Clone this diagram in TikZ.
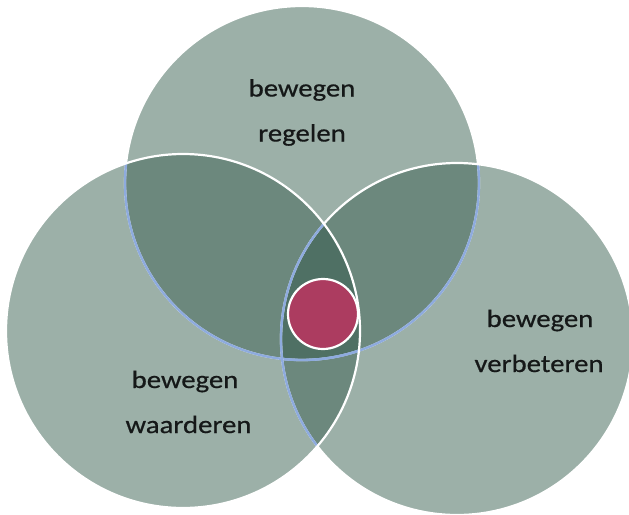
\documentclass[tikz,border=0pt]{standalone}
\usepackage{fontspec}
\setmainfont{Carlito}[FakeStretch=1.15,FakeBold=0.6]
\definecolor{vbase}{HTML}{9CB0A8}
\definecolor{vpair}{HTML}{6C887D}
\definecolor{vtriple}{HTML}{4F7064}
\definecolor{vcore}{HTML}{AC3C60}
\definecolor{vrim}{HTML}{8EABDE}
\definecolor{vtext}{HTML}{151818}
\begin{document}
\begin{tikzpicture}[x=1pt,y=-1pt,
  rim/.style={draw=white,line width=2.2pt},
  bluerim/.style={draw=vrim,line width=2.4pt},
  lbl/.style={anchor=base,inner sep=0pt,text=vtext,font=\fontsize{25}{30}\selectfont}]
\useasboundingbox (0,0) rectangle (629,514);
% the three sets
\def\topset{(302,183) circle[radius=177pt]}
\def\leftset{(183,331) circle[radius=177pt]}
\def\rightset{(457,339) circle[radius=176pt]}
% plain areas
\fill[vbase] \topset;
\fill[vbase] \leftset;
\fill[vbase] \rightset;
% pairwise overlaps
\begin{scope}
  \clip \topset;
  \fill[vpair] \leftset;
  \fill[vpair] \rightset;
\end{scope}
\begin{scope}
  \clip \leftset;
  \fill[vpair] \rightset;
\end{scope}
% common area of all three
\begin{scope}
  \clip \topset;
  \clip \leftset;
  \fill[vtriple] \rightset;
\end{scope}
% outlines, lower sets show blue where covered
\draw[rim] \topset;
\begin{scope}
  \clip \leftset;
  \draw[bluerim] \topset;
\end{scope}
\begin{scope}
  \clip \rightset;
  \draw[bluerim] \topset;
\end{scope}
\draw[rim] \rightset;
\begin{scope}
  \clip \leftset;
  \draw[bluerim] \rightset;
\end{scope}
\draw[rim] \leftset;
% centre
\node[circle,fill=vcore,draw=white,line width=2.2pt,minimum size=70pt,inner sep=0pt] (core) at (323,314) {};
% labels
\node[lbl] (t1) at (302,96.5) {bewegen};
\node[lbl] (t2) at (302,141.5) {regelen};
\node[lbl] (l1) at (185,388) {bewegen};
\node[lbl] (l2) at (188.5,433) {waarderen};
\node[lbl] (r1) at (540,327) {bewegen};
\node[lbl] (r2) at (539,372) {verbeteren};
\end{tikzpicture}
\end{document}
